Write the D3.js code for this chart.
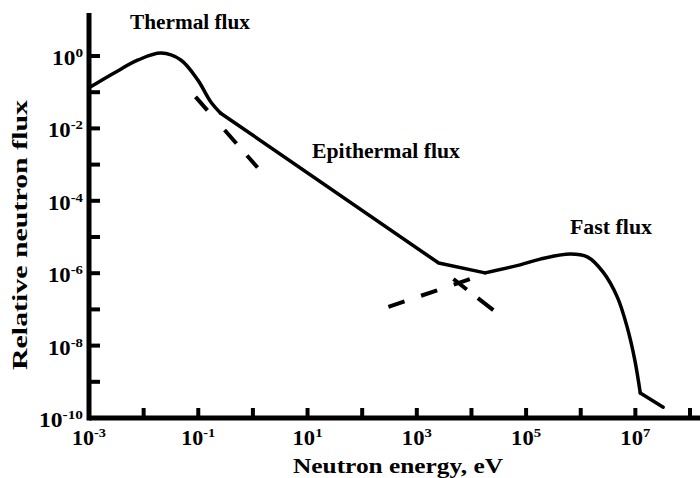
<!DOCTYPE html>
<html>
<head>
<meta charset="utf-8">
<script src="https://cdn.jsdelivr.net/npm/d3@7"></script>
<style>
  html, body { margin: 0; padding: 0; background: #fff; }
  svg text { font-family: "Liberation Serif", "Times New Roman", serif; font-weight: bold; fill: #000; }
</style>
</head>
<body>
<svg id="chart"></svg>
<script>
// ===== data (log10 values) =====
// spectrum pieces: [log10 E (eV), log10 relative flux]
const thermalHump = [
  [-3.00, -0.88], [-2.54, -0.47], [-2.10, -0.11], [-1.68, 0.08],
  [-1.32, -0.11], [-1.01, -0.66], [-0.77, -1.27], [-0.59, -1.58]
];
const epithermalLine = [[-0.59, -1.58], [3.40, -5.72], [4.25, -5.99]];
const fastHump = [
  [4.25, -5.99], [4.89, -5.77], [5.26, -5.61], [5.81, -5.47],
  [6.12, -5.55], [6.41, -5.97], [6.67, -6.66], [6.85, -7.49],
  [6.99, -8.40], [7.09, -9.31]
];
const highTail = [[7.09, -9.31], [7.51, -9.70]];

// dashed extrapolations
const thermalTail = [[-1.05, -1.13], [0.09, -3.09]];
const epithermalTail = [[3.67, -6.16], [4.40, -7.02]];
const fastTail = [[2.48, -6.93], [3.98, -6.16]];

const xTickExps = d3.range(-3, 9);          // 10^-3 .. 10^8
const xLabelExps = [-3, -1, 1, 3, 5, 7];
const yTickExps = d3.range(-10, 1);         // 10^-10 .. 10^0
const yLabelExps = [0, -2, -4, -6, -8, -10];

const annotations = [
  { text: "Thermal flux", x: 130, y: 29, len: 120 },
  { text: "Epithermal flux", x: 312, y: 158, len: 148 },
  { text: "Fast flux", x: 570, y: 234, len: 82 }
];

// ===== layout =====
const width = 700;
const height = 478;

const svg = d3.select("#chart")
  .attr("width", width)
  .attr("height", height);

// log-decade scales (values already in log10)
const x = d3.scaleLinear().domain([-3, 8]).range([89, 690]);
const y = d3.scaleLinear().domain([0, -10]).range([56, 418]);

// ===== axes =====
const axisG = svg.append("g");

axisG.append("line")
  .attr("x1", x(-3)).attr("x2", 700)
  .attr("y1", y(-10)).attr("y2", y(-10))
  .attr("stroke", "#000").attr("stroke-width", 5);

axisG.append("line")
  .attr("x1", x(-3)).attr("x2", x(-3))
  .attr("y1", 13).attr("y2", y(-10) + 2.5)
  .attr("stroke", "#000").attr("stroke-width", 5);

// x ticks (pointing up, inside)
axisG.selectAll("line.xtick")
  .data(xTickExps.filter((d) => d > -3))
  .join("line")
  .attr("class", "xtick")
  .attr("x1", (d) => x(d)).attr("x2", (d) => x(d))
  .attr("y1", y(-10)).attr("y2", y(-10) - 10)
  .attr("stroke", "#000").attr("stroke-width", 4);

// y ticks (pointing right, inside)
axisG.selectAll("line.ytick")
  .data(yTickExps.filter((d) => d > -10))
  .join("line")
  .attr("class", "ytick")
  .attr("x1", x(-3)).attr("x2", x(-3) + 11)
  .attr("y1", (d) => y(d)).attr("y2", (d) => y(d))
  .attr("stroke", "#000").attr("stroke-width", 4);

// tick labels with superscripts
function powerLabel(sel, exp) {
  sel.append("tspan").text("10");
  sel.append("tspan")
    .attr("dy", -8)
    .attr("font-size", 13)
    .text(String(exp));
}

axisG.selectAll("text.xlabel")
  .data(xLabelExps)
  .join("text")
  .attr("class", "xlabel")
  .attr("x", (d) => x(d))
  .attr("y", 445)
  .attr("text-anchor", "middle")
  .attr("font-size", 20)
  .attr("textLength", (d) => (d < 0 ? 34 : 30))
  .attr("lengthAdjust", "spacingAndGlyphs")
  .each(function (d) { powerLabel(d3.select(this), d); });

axisG.selectAll("text.ylabel")
  .data(yLabelExps)
  .join("text")
  .attr("class", "ylabel")
  .attr("x", 83)
  .attr("y", (d) => y(d) + 9)
  .attr("text-anchor", "end")
  .attr("font-size", 20)
  .attr("textLength", (d) => (d <= -10 ? 44 : d < 0 ? 35 : 31))
  .attr("lengthAdjust", "spacingAndGlyphs")
  .each(function (d) { powerLabel(d3.select(this), d); });

// axis titles
svg.append("text")
  .attr("x", 293).attr("y", 473)
  .attr("font-size", 21)
  .attr("textLength", 210)
  .attr("lengthAdjust", "spacingAndGlyphs")
  .text("Neutron energy, eV");

svg.append("text")
  .attr("transform", "translate(27,370) rotate(-90)")
  .attr("font-size", 21)
  .attr("textLength", 270)
  .attr("lengthAdjust", "spacingAndGlyphs")
  .text("Relative neutron flux");

// ===== curves =====
const smooth = d3.line()
  .x((d) => x(d[0]))
  .y((d) => y(d[1]))
  .curve(d3.curveCatmullRom.alpha(0.5));

const straight = d3.line().x((d) => x(d[0])).y((d) => y(d[1]));

const solidPieces = [
  [thermalHump, smooth],
  [epithermalLine, straight],
  [fastHump, smooth],
  [highTail, straight]
];

solidPieces.forEach(([pts, gen]) => {
  svg.append("path")
    .datum(pts)
    .attr("d", gen)
    .attr("fill", "none")
    .attr("stroke", "#000")
    .attr("stroke-width", 3.5)
    .attr("stroke-linejoin", "round")
    .attr("stroke-linecap", "round");
});

const dashed = [
  [thermalTail, "18,26,18,16,16"],
  [epithermalTail, "17,14,20"],
  [fastTail, "17,17.5"]
];

dashed.forEach(([pts, dash]) => {
  svg.append("path")
    .datum(pts)
    .attr("d", straight)
    .attr("fill", "none")
    .attr("stroke", "#000")
    .attr("stroke-width", 4)
    .attr("stroke-dasharray", dash);
});

// ===== region labels =====
svg.selectAll("text.region")
  .data(annotations)
  .join("text")
  .attr("class", "region")
  .attr("x", (d) => d.x)
  .attr("y", (d) => d.y)
  .attr("font-size", 20)
  .attr("textLength", (d) => d.len)
  .attr("lengthAdjust", "spacingAndGlyphs")
  .text((d) => d.text);
</script>
</body>
</html>
